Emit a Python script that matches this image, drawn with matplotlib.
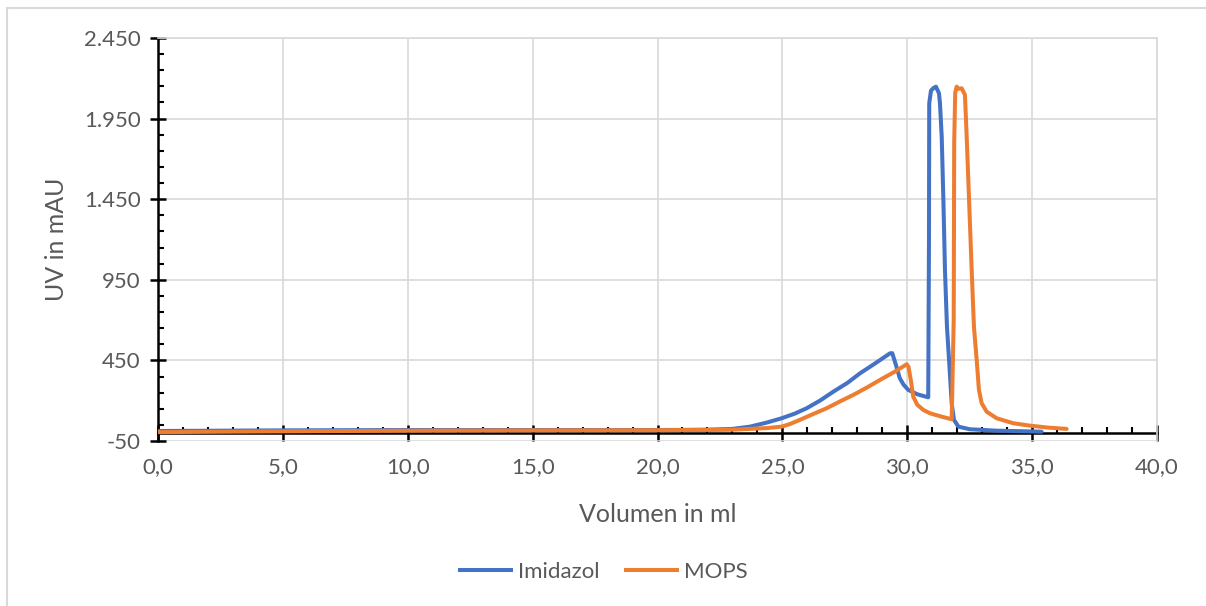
import matplotlib
matplotlib.use("Agg")
import matplotlib.pyplot as plt
import numpy as np
from matplotlib.ticker import FixedLocator, MultipleLocator, FuncFormatter
from matplotlib.patches import Rectangle

plt.rcParams['font.family'] = ['Lato', 'DejaVu Sans']

# Imidazol series
imid_x = [0, 5, 10, 15, 20, 22, 23, 23.7, 24.37, 24.97, 25.5, 25.97, 26.5, 27.04, 27.6, 28.11,
          28.7, 29.31, 29.4, 29.55, 29.7, 29.85, 30.04, 30.4, 30.84, 30.87, 30.88, 30.95, 31.05,
          31.15, 31.27, 31.31, 31.38, 31.45, 31.51, 31.59, 31.69, 31.78, 31.87, 32.05, 32.5,
          33.58, 35.38]
imid_y = [12, 16, 18, 18, 18, 20, 25, 39, 64, 91, 120, 153, 200, 256, 310, 370,
          430, 494, 495, 420, 340, 300, 267, 240, 221, 1200, 2045, 2123, 2140,
          2148, 2107, 2045, 1838, 1425, 1011, 659, 411, 184, 81, 39, 23,
          14, 8]

# MOPS series
mops_x = [0, 5, 10, 15, 20, 23, 24.37, 24.97, 25.3, 25.7, 26.2, 26.77, 27.3, 27.84, 28.4, 28.91,
          29.5, 29.98, 30.05, 30.15, 30.24, 30.4, 30.64, 30.91, 31.4, 31.78, 31.86, 31.88, 31.92,
          31.98, 32.05, 32.18, 32.31, 32.38, 32.48, 32.58, 32.67, 32.78, 32.87, 32.98, 33.18,
          33.58, 34.25, 34.92, 35.65, 36.38]
mops_y = [5, 10, 14, 16, 17, 20, 30, 39, 55, 81, 115, 153, 195, 236, 283, 329,
          380, 426, 410, 320, 225, 175, 143, 122, 100, 85, 700, 1800, 2110,
          2148, 2135, 2138, 2097, 1838, 1425, 1011, 659, 453, 267, 184, 132,
          91, 60, 45, 33, 25]

series_names = ["Imidazol", "MOPS"]
colors = ["#4472C4", "#ED7D31"]

x_major = [0, 5, 10, 15, 20, 25, 30, 35, 40]
y_major = [-50, 450, 950, 1450, 1950, 2450]

fig = plt.figure(figsize=(12.06, 6.06), dpi=100)
ax = fig.add_axes([158/1206, 1-441/606, (1157-158)/1206, (441-38)/606])

ax.plot(imid_x, imid_y, color=colors[0], lw=2.9, label=series_names[0],
        solid_joinstyle='round', solid_capstyle='round', zorder=3)
ax.plot(mops_x, mops_y, color=colors[1], lw=2.9, label=series_names[1],
        solid_joinstyle='round', solid_capstyle='round', zorder=3)

ax.set_xlim(0, 40)
ax.set_ylim(-50, 2450)

ax.xaxis.set_major_locator(FixedLocator(x_major))
ax.xaxis.set_minor_locator(MultipleLocator(1))
ax.yaxis.set_major_locator(FixedLocator(y_major))
ax.yaxis.set_minor_locator(FixedLocator(np.arange(-50, 2451, 100)))

def yfmt(v, p):
    return f"{int(round(v)):,}".replace(",", ".")
def xfmt(v, p):
    return f"{v:.1f}".replace(".", ",")
ax.yaxis.set_major_formatter(FuncFormatter(yfmt))
ax.xaxis.set_major_formatter(FuncFormatter(xfmt))

ax.grid(which='major', color='#d9d9d9', lw=1.2, zorder=0)
ax.set_axisbelow(True)

for s in ['top', 'right']:
    ax.spines[s].set_color('#d9d9d9')
    ax.spines[s].set_linewidth(1.2)
ax.spines['bottom'].set_position(('data', 0))
ax.spines['bottom'].set_color('black')
ax.spines['bottom'].set_linewidth(1.8)
ax.spines['bottom'].set_zorder(2)
ax.spines['left'].set_color('black')
ax.spines['left'].set_linewidth(1.8)

ax.tick_params(axis='x', which='major', direction='inout', length=11, width=1.8, pad=12,
               labelsize=16, labelcolor='#595959', color='black')
ax.tick_params(axis='x', which='minor', direction='in', length=4, width=1.5, color='black')
ax.tick_params(axis='y', which='major', direction='inout', length=11, width=1.8, pad=7,
               labelsize=16, labelcolor='#595959', color='black')
ax.tick_params(axis='y', which='minor', direction='in', length=4, width=1.5, color='black')

ax.set_xlabel("Volumen in ml", fontsize=18, color='#595959')
ax.set_ylabel("UV in mAU", fontsize=18, color='#595959')
ax.xaxis.set_label_coords(0.5, -0.155)
ax.yaxis.set_label_coords(-0.09, 0.5)

leg = fig.legend(loc='center', bbox_to_anchor=(0.5, 1-572/606), ncol=2, frameon=False,
                 fontsize=16, labelcolor='#595959', handlelength=2.45, handletextpad=0.25,
                 columnspacing=1.1)
for h in leg.get_lines():
    h.set_solid_capstyle('butt')

fig.add_artist(Rectangle((7/1206, -0.1), 1.2, 0.1 + (606-8)/606, transform=fig.transFigure,
                         fill=False, ec='#d9d9d9', lw=1.5))

fig.savefig("out.png", dpi=100)
